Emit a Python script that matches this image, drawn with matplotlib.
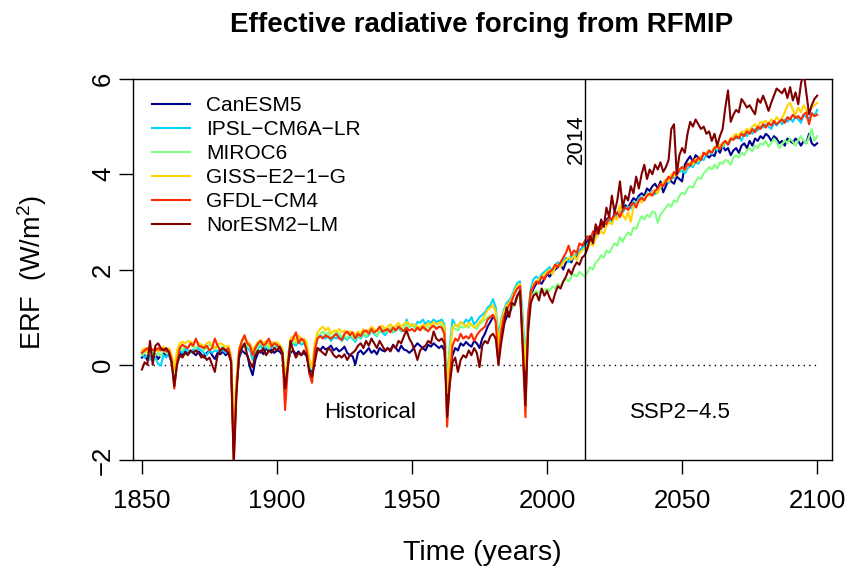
import matplotlib
matplotlib.use("Agg")
import matplotlib.pyplot as plt
import numpy as np

plt.rcParams["font.family"] = ["Liberation Sans", "DejaVu Sans"]
plt.rcParams["mathtext.fontset"] = "custom"
plt.rcParams["mathtext.rm"] = "Liberation Sans"
plt.rcParams["mathtext.it"] = "Liberation Sans:italic"

years = np.arange(1850, 2101)

MODELS = ["CanESM5", "IPSL\u2212CM6A\u2212LR", "MIROC6", "GISS\u2212E2\u22121\u2212G",
          "GFDL\u2212CM4", "NorESM2\u2212LM"]
COLORS = ["#00008B", "#00D5FF", "#80FF80", "#FFD400", "#FF2A00", "#800000"]

# annual ERF values 1850..2100 (W/m2), one row per decade
canesm5 = [
    0.15, 0.20, 0.10, 0.25, 0.18, 0.22, 0.12, 0.20, 0.25, 0.18,
    0.22, 0.05, -0.25, 0.10, 0.25, 0.20, 0.28, 0.22, 0.30, 0.25,
    0.20, 0.28, 0.22, 0.15, 0.25, 0.30, 0.20, 0.12, 0.25, 0.22,
    0.28, 0.20, 0.25, 0.10, -1.80, -0.45, 0.15, 0.30, 0.25, 0.20,
    -0.05, -0.22, 0.10, 0.25, 0.30, 0.22, 0.35, 0.28, 0.32, 0.25,
    0.30, 0.28, 0.20, -0.40, 0.05, 0.25, 0.30, 0.22, 0.28, 0.20,
    0.25, 0.18, -0.10, -0.15, 0.20, 0.35, 0.30, 0.38, 0.32, 0.35,
    0.40, 0.30, 0.35, 0.28, 0.32, 0.38, 0.25, 0.20, 0.18, 0.00,
    0.25, 0.30, 0.22, 0.28, 0.35, 0.25, 0.30, 0.22, 0.35, 0.30,
    0.28, 0.35, 0.30, 0.42, 0.35, 0.28, 0.40, 0.32, 0.30, 0.25,
    0.30, 0.38, 0.45, 0.40, 0.35, 0.30, 0.42, 0.38, 0.45, 0.40,
    0.35, 0.40, 0.30, -0.70, -0.10, 0.20, 0.35, 0.30, 0.45, 0.40,
    0.48, 0.42, 0.38, 0.50, 0.45, 0.35, 0.55, 0.65, 0.80, 0.90,
    1.00, 0.95, 0.40, 0.60, 0.85, 1.00, 1.10, 1.20, 1.30, 1.45,
    1.55, 0.60, -0.30, 0.80, 1.45, 1.60, 1.70, 1.75, 1.70, 1.80,
    1.90, 1.85, 1.95, 2.00, 2.05, 2.10, 2.00, 2.15, 2.20, 2.15,
    2.30, 2.25, 2.40, 2.45, 2.55, 2.60, 2.70, 2.65, 2.80, 2.85,
    2.95, 2.90, 3.05, 3.10, 3.00, 3.20, 3.15, 3.30, 3.25, 3.35,
    3.30, 3.40, 3.50, 3.45, 3.55, 3.60, 3.55, 3.70, 3.65, 3.75,
    3.80, 3.70, 3.85, 3.62, 3.75, 3.90, 3.85, 3.80, 3.95, 3.90,
    3.85, 4.20, 4.30, 4.38, 4.25, 4.40, 4.35, 4.30, 4.45, 4.40,
    4.35, 4.42, 4.38, 4.55, 4.45, 4.60, 4.50, 4.55, 4.40, 4.50,
    4.55, 4.45, 4.60, 4.65, 4.55, 4.70, 4.60, 4.75, 4.70, 4.80,
    4.75, 4.85, 4.80, 4.70, 4.80, 4.75, 4.65, 4.70, 4.60, 4.75,
    4.70, 4.65, 4.75, 4.70, 4.60, 4.70, 4.65, 4.85, 4.65, 4.60,
    4.65]

ipsl = [
    0.25, 0.15, 0.20, 0.10, 0.25, 0.15, 0.02, -0.02, 0.20, 0.15,
    0.25, 0.10, -0.20, 0.15, 0.30, 0.25, 0.35, 0.30, 0.25, 0.32,
    0.28, 0.35, 0.30, 0.25, 0.20, 0.30, 0.25, 0.30, 0.28, 0.35,
    0.30, 0.25, 0.30, 0.15, -1.60, -0.40, 0.20, 0.35, 0.40, 0.35,
    0.30, 0.10, 0.25, 0.35, 0.40, 0.30, 0.38, 0.32, 0.40, 0.35,
    0.40, 0.35, 0.30, -0.35, 0.10, 0.35, 0.45, 0.40, 0.50, 0.42,
    0.45, 0.38, 0.00, -0.10, 0.35, 0.55, 0.62, 0.58, 0.55, 0.60,
    0.50, 0.58, 0.55, 0.62, 0.50, 0.58, 0.52, 0.60, 0.55, 0.48,
    0.60, 0.55, 0.65, 0.58, 0.62, 0.70, 0.65, 0.60, 0.72, 0.68,
    0.62, 0.70, 0.75, 0.68, 0.72, 0.78, 0.70, 0.75, 0.95, 0.80,
    0.85, 0.78, 0.90, 0.88, 0.95, 0.85, 0.92, 0.88, 0.95, 0.90,
    0.92, 0.95, 0.85, -0.35, 0.40, 0.95, 0.85, 0.80, 0.90, 0.85,
    0.95, 0.90, 1.00, 0.85, 0.92, 1.00, 1.05, 1.10, 1.20, 1.25,
    1.38, 1.20, 0.60, 0.95, 1.15, 1.30, 1.35, 1.45, 1.60, 1.72,
    1.75, 1.00, 0.10, 1.10, 1.60, 1.80, 1.85, 1.80, 1.90, 1.95,
    2.00, 2.05, 1.95, 2.10, 2.15, 2.10, 2.20, 2.25, 2.15, 2.30,
    2.25, 2.35, 2.40, 2.45, 2.50, 2.55, 2.62, 2.70, 2.66, 2.80,
    2.85, 2.92, 3.00, 3.06, 2.96, 3.15, 3.10, 3.24, 3.20, 3.30,
    3.32, 3.28, 3.42, 3.38, 3.50, 3.52, 3.46, 3.60, 3.55, 3.65,
    3.58, 3.65, 3.72, 3.80, 3.85, 3.82, 3.95, 3.92, 4.00, 4.05,
    4.08, 4.02, 4.12, 4.18, 4.15, 4.25, 4.22, 4.32, 4.30, 4.40,
    4.48, 4.42, 4.55, 4.50, 4.62, 4.56, 4.68, 4.62, 4.72, 4.78,
    4.75, 4.82, 4.70, 4.85, 4.80, 4.90, 4.85, 4.95, 4.92, 5.00,
    4.98, 5.05, 5.00, 4.95, 5.08, 5.02, 5.12, 5.05, 5.15, 5.10,
    5.18, 5.10, 5.22, 5.15, 5.08, 5.25, 5.20, 5.15, 5.28, 5.22,
    5.35]

miroc6 = [
    0.20, 0.25, 0.30, 0.22, 0.28, 0.20, 0.25, 0.18, 0.30, 0.25,
    0.28, 0.15, -0.20, 0.20, 0.35, 0.30, 0.40, 0.35, 0.42, 0.38,
    0.35, 0.40, 0.38, 0.30, 0.35, 0.42, 0.38, 0.32, 0.40, 0.35,
    0.38, 0.30, 0.35, 0.15, -1.40, -0.35, 0.25, 0.40, 0.45, 0.40,
    0.38, 0.20, 0.30, 0.40, 0.45, 0.38, 0.42, 0.35, 0.45, 0.40,
    0.42, 0.38, 0.30, -0.35, 0.05, 0.35, 0.50, 0.45, 0.55, 0.48,
    0.50, 0.42, 0.05, -0.10, 0.40, 0.60, 0.65, 0.70, 0.62, 0.68,
    0.55, 0.62, 0.70, 0.65, 0.58, 0.62, 0.55, 0.65, 0.58, 0.52,
    0.62, 0.58, 0.68, 0.60, 0.65, 0.72, 0.68, 0.62, 0.70, 0.75,
    0.68, 0.72, 0.78, 0.70, 0.75, 0.82, 0.72, 0.78, 0.85, 0.80,
    0.82, 0.78, 0.75, 0.80, 0.78, 0.72, 0.80, 0.76, 0.82, 0.78,
    0.80, 0.85, 0.75, -0.45, 0.30, 0.80, 0.75, 0.72, 0.80, 0.78,
    0.82, 0.78, 0.85, 0.80, 0.75, 0.85, 0.90, 0.95, 1.00, 1.02,
    1.05, 0.95, 0.50, 0.80, 1.00, 1.10, 1.15, 1.20, 1.30, 1.40,
    1.45, 0.80, 0.15, 0.90, 1.35, 1.50, 1.55, 1.50, 1.60, 1.55,
    1.60, 1.55, 1.65, 1.60, 1.70, 1.65, 1.75, 1.80, 1.75, 1.85,
    1.90, 1.85, 1.95, 1.90, 1.85, 1.95, 2.05, 2.00, 2.15, 2.20,
    2.30, 2.25, 2.40, 2.35, 2.45, 2.55, 2.50, 2.68, 2.58, 2.70,
    2.78, 2.72, 2.88, 2.85, 3.00, 3.12, 3.05, 3.15, 3.10, 3.22,
    3.19, 2.98, 3.15, 3.22, 3.30, 3.37, 3.32, 3.45, 3.42, 3.55,
    3.61, 3.58, 3.70, 3.75, 3.72, 3.85, 3.93, 3.90, 4.02, 4.08,
    4.15, 4.10, 4.20, 4.12, 4.25, 4.22, 4.30, 4.28, 4.20, 4.35,
    4.40, 4.35, 4.45, 4.40, 4.50, 4.55, 4.48, 4.60, 4.55, 4.65,
    4.62, 4.70, 4.58, 4.65, 4.75, 4.68, 4.55, 4.62, 4.72, 4.65,
    4.75, 4.68, 4.60, 4.72, 4.80, 4.70, 4.65, 4.78, 4.95, 4.70,
    4.80]

giss = [
    0.30, 0.35, 0.25, 0.38, 0.30, 0.35, 0.28, 0.32, 0.38, 0.30,
    0.35, 0.20, -0.10, 0.30, 0.45, 0.48, 0.45, 0.50, 0.48, 0.45,
    0.50, 0.45, 0.42, 0.38, 0.45, 0.48, 0.40, 0.35, 0.42, 0.45,
    0.42, 0.38, 0.40, 0.20, -1.30, -0.30, 0.35, 0.50, 0.55, 0.48,
    0.45, 0.30, 0.40, 0.48, 0.52, 0.45, 0.50, 0.42, 0.48, 0.45,
    0.48, 0.42, 0.35, -0.30, 0.15, 0.55, 0.60, 0.50, 0.62, 0.52,
    0.55, 0.48, 0.10, -0.05, 0.45, 0.68, 0.75, 0.80, 0.72, 0.78,
    0.65, 0.72, 0.70, 0.75, 0.68, 0.72, 0.65, 0.70, 0.68, 0.62,
    0.70, 0.65, 0.75, 0.68, 0.72, 0.80, 0.75, 0.70, 0.78, 0.82,
    0.75, 0.80, 0.85, 0.78, 0.82, 0.88, 0.80, 0.85, 0.90, 0.85,
    0.82, 0.85, 0.80, 0.78, 0.85, 0.80, 0.88, 0.82, 0.90, 0.85,
    0.88, 0.90, 0.80, -0.60, 0.20, 0.75, 0.85, 0.80, 0.90, 0.85,
    0.80, 0.88, 0.85, 0.78, 0.82, 0.90, 0.95, 1.05, 1.15, 1.20,
    1.25, 1.10, 0.35, 0.90, 1.10, 1.25, 1.30, 1.40, 1.55, 1.65,
    1.70, 0.70, -0.10, 0.95, 1.50, 1.70, 1.75, 1.80, 1.85, 1.90,
    1.95, 2.00, 1.90, 2.05, 2.10, 2.05, 2.15, 2.20, 2.25, 2.20,
    2.30, 2.20, 2.35, 2.40, 2.45, 2.45, 2.55, 2.50, 2.65, 2.75,
    2.80, 2.75, 2.92, 3.00, 2.95, 3.10, 3.05, 3.35, 3.15, 3.05,
    3.20, 3.00, 3.30, 3.35, 3.45, 3.40, 3.50, 3.58, 3.55, 3.62,
    3.68, 3.60, 3.75, 3.82, 3.90, 3.85, 4.00, 3.95, 4.05, 4.10,
    4.15, 4.08, 4.20, 4.25, 4.20, 4.32, 4.28, 4.38, 4.42, 4.45,
    4.50, 4.45, 4.58, 4.55, 4.62, 4.60, 4.70, 4.65, 4.75, 4.80,
    4.85, 4.80, 4.90, 4.88, 4.95, 4.92, 5.00, 5.05, 4.98, 5.10,
    5.08, 5.12, 5.05, 5.15, 5.10, 5.20, 5.12, 5.18, 5.30, 5.45,
    5.50, 5.35, 5.25, 5.40, 5.30, 5.45, 5.35, 5.28, 5.40, 5.45,
    5.50]

gfdl = [
    0.25, 0.30, 0.35, 0.28, 0.32, 0.30, 0.35, 0.30, 0.33, 0.28,
    0.30, 0.10, -0.50, 0.05, 0.35, 0.42, 0.38, 0.35, 0.45, 0.40,
    0.55, 0.40, 0.38, 0.35, 0.40, 0.30, 0.35, 0.55, 0.40, 0.30,
    0.35, 0.30, 0.35, 0.10, -2.00, -0.55, 0.30, 0.50, 0.62, 0.45,
    0.40, 0.20, 0.35, 0.45, 0.50, 0.40, 0.45, 0.55, 0.38, 0.45,
    0.42, 0.35, 0.25, -0.95, -0.10, 0.45, 0.55, 0.68, 0.45, 0.55,
    0.50, 0.30, -0.20, -0.38, 0.30, 0.55, 0.60, 0.55, 0.62, 0.58,
    0.55, 0.60, 0.65, 0.55, 0.52, 0.65, 0.70, 0.62, 0.68, 0.55,
    0.65, 0.60, 0.70, 0.72, 0.65, 0.75, 0.68, 0.72, 0.80, 0.70,
    0.72, 0.75, 0.68, 0.78, 0.72, 0.80, 0.75, 0.70, 0.78, 0.72,
    0.75, 0.70, 0.78, 0.72, 0.80, 0.75, 0.70, 0.78, 0.82, 0.75,
    0.80, 0.78, 0.65, -1.30, -0.30, 0.40, 0.55, 0.50, 0.65, 0.55,
    0.60, 0.55, 0.65, 0.50, 0.62, 0.70, 0.75, 0.80, 0.95, 1.00,
    1.05, 0.90, 0.00, 0.70, 1.00, 1.15, 1.25, 1.35, 1.50, 1.60,
    1.65, 0.30, -1.10, 1.05, 1.55, 1.65, 1.75, 1.70, 1.85, 1.80,
    1.90, 1.95, 2.00, 2.10, 2.05, 2.15, 2.25, 2.35, 2.50, 2.30,
    2.40, 2.35, 2.55, 2.50, 2.60, 2.70, 2.60, 2.80, 2.75, 2.90,
    2.85, 3.00, 2.95, 3.10, 3.05, 3.15, 3.20, 3.10, 3.25, 3.30,
    3.25, 3.35, 3.40, 3.30, 3.45, 3.50, 3.45, 3.55, 3.60, 3.55,
    3.65, 3.70, 3.80, 3.75, 3.85, 3.95, 3.90, 4.05, 3.98, 4.10,
    4.15, 4.10, 4.22, 4.18, 4.30, 4.25, 4.35, 4.30, 4.45, 4.40,
    4.50, 4.45, 4.55, 4.60, 4.52, 4.65, 4.70, 4.62, 4.75, 4.72,
    4.80, 4.75, 4.85, 4.80, 4.90, 4.85, 4.95, 4.88, 5.00, 4.95,
    5.05, 4.98, 5.08, 5.02, 5.12, 5.05, 5.10, 5.15, 5.08, 5.20,
    5.15, 5.25, 5.18, 5.22, 5.15, 5.25, 5.30, 5.05, 5.28, 5.22,
    5.25]

noresm = [
    -0.10, 0.05, 0.00, 0.50, 0.00, 0.40, 0.45, 0.35, 0.30, 0.35,
    0.25, 0.05, -0.45, 0.00, 0.20, 0.15, 0.25, 0.20, 0.30, 0.25,
    0.30, 0.25, 0.15, 0.20, 0.10, 0.15, 0.00, -0.15, 0.20, 0.30,
    0.35, 0.30, 0.25, 0.05, -2.10, -0.60, 0.20, 0.35, 0.45, 0.20,
    0.05, -0.05, 0.20, 0.30, 0.25, 0.35, 0.20, 0.30, 0.25, 0.35,
    0.30, 0.38, 0.25, -0.50, -0.05, 0.50, 0.30, 0.15, 0.25, 0.20,
    0.30, 0.20, -0.15, -0.25, 0.05, 0.35, 0.30, 0.25, 0.20, 0.35,
    0.30, 0.20, 0.15, 0.20, 0.15, 0.22, 0.10, 0.20, 0.25, 0.30,
    0.40, 0.45, 0.35, 0.50, 0.40, 0.55, 0.45, 0.35, 0.50, 0.40,
    0.30, 0.35, 0.28, 0.40, 0.35, 0.50, 0.45, 0.60, 0.72, 0.55,
    0.45, 0.30, 0.10, 0.30, 0.36, 0.40, 0.50, 0.45, 0.70, 0.55,
    0.50, 0.55, 0.45, -1.10, -0.40, 0.05, 0.15, -0.15, 0.10, 0.20,
    0.15, 0.30, 0.20, 0.35, 0.25, -0.05, 0.40, 0.50, 0.45, 0.60,
    0.65, 0.55, 0.00, 0.45, 0.80, 1.20, 1.00, 1.30, 1.25, 1.45,
    1.55, 0.40, -0.85, 0.70, 1.30, 1.45, 1.50, 1.35, 1.60, 1.45,
    1.55, 1.40, 1.30, 1.50, 1.65, 1.60, 1.75, 1.85, 2.00, 1.90,
    2.05, 2.15, 2.10, 2.25, 2.30, 2.45, 2.70, 2.55, 2.95, 2.75,
    3.05, 2.90, 3.30, 3.10, 3.55, 3.20, 3.45, 3.85, 3.30, 3.55,
    3.45, 3.75, 3.60, 3.95, 3.70, 4.00, 4.20, 3.90, 4.10, 4.00,
    4.20, 4.10, 4.25, 4.05, 4.15, 4.30, 4.95, 5.05, 4.00, 4.40,
    4.55, 4.45, 4.85, 5.10, 5.00, 5.15, 5.05, 4.95, 5.00, 4.85,
    4.90, 4.70, 4.85, 4.60, 4.80, 4.95, 5.40, 5.76, 5.10, 5.25,
    5.35, 5.30, 5.58, 5.50, 5.40, 5.45, 5.35, 5.26, 5.58, 5.50,
    5.65, 5.50, 5.33, 5.50, 5.65, 5.80, 5.75, 5.70, 5.80, 5.60,
    5.83, 5.55, 5.72, 5.47, 5.90, 6.15, 5.70, 5.26, 5.45, 5.58,
    5.65]

SERIES = [canesm5, ipsl, miroc6, giss, gfdl, noresm]
XTICKS = [1850, 1900, 1950, 2000, 2050, 2100]
YTICKS = [-2, 0, 2, 4, 6]

fig = plt.figure(figsize=(8.59, 5.68), dpi=100)
ax = fig.add_axes([133 / 859, 1 - 460 / 568, 699 / 859, 381 / 568])

for name, vals, col in zip(MODELS, SERIES, COLORS):
    ax.plot(years, vals, color=col, lw=1.5, label=name, zorder=3)

ax.plot([1850, 2100], [0, 0], color="black", ls=(0, (1, 3)), lw=1.0, zorder=2)
ax.axvline(2014, color="black", lw=1.0, zorder=4)

ax.set_xlim(1846.7, 2105.5)
ax.set_ylim(-2, 6)
ax.set_xticks(XTICKS)
ax.set_yticks(YTICKS)
ax.set_yticklabels([str(v).replace("-", "\u2212") for v in YTICKS], rotation=90, va="center")
ax.tick_params(axis="both", direction="out", length=10, width=1.0, labelsize=18.5)
ax.tick_params(axis="x", pad=11)
ax.tick_params(axis="y", pad=3)
for s in ax.spines.values():
    s.set_linewidth(1.0)

ax.text(2010.9, 4.74, "2014", rotation=90, ha="center", va="center", fontsize=16)
ax.text(1934.4, -1.0, "Historical", ha="center", va="center", fontsize=16)
ax.text(2049.3, -1.0, "SSP2\u22124.5", ha="center", va="center", fontsize=16)

ax.legend(loc="upper left", bbox_to_anchor=(0.027, 0.955), frameon=False,
          fontsize=15, handlelength=1.85, handletextpad=0.75,
          labelspacing=0.24, borderaxespad=0, borderpad=0)

fig.text(482 / 859, 1 - 25 / 568, "Effective radiative forcing from RFMIP",
         ha="center", va="center", fontsize=20, fontweight="bold")
fig.text(32 / 859, 1 - 272 / 568, "ERF  (W/m$^2$)", rotation=90,
         ha="center", va="center", fontsize=19.5)
fig.text(482 / 859, 1 - 553 / 568, "Time (years)", ha="center", va="center",
         fontsize=20.5)

fig.savefig("out.png", dpi=100)
